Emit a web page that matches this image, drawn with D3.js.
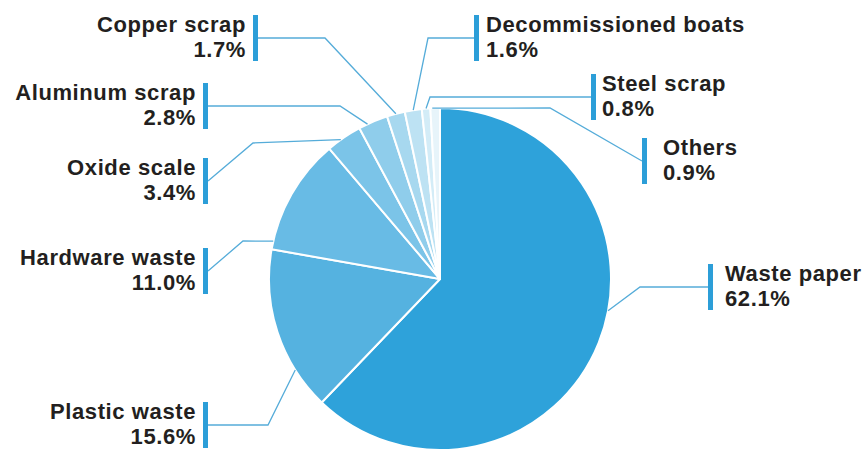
<!DOCTYPE html>
<html>
<head>
<meta charset="utf-8">
<script src="https://cdn.jsdelivr.net/npm/d3@7"></script>
<style>
  html, body { margin: 0; padding: 0; background: #fff; }
  svg { display: block; }
  .lbl { font-family: "Liberation Sans", Arial, sans-serif; font-weight: bold; font-size: 22px; fill: #231f20; letter-spacing: 0.6px; }
</style>
</head>
<body>
<svg width="866" height="450"></svg>
<script>
// data, clockwise from 12 o'clock
const categories = ['Waste paper', 'Plastic waste', 'Hardware waste', 'Oxide scale',
                    'Aluminum scrap', 'Copper scrap', 'Decommissioned boats', 'Steel scrap', 'Others'];
const shares = [62.1, 15.6, 11.0, 3.4, 2.8, 1.7, 1.6, 0.8, 0.9];
const sliceColors = ['#2ea2da', '#55b2e0', '#68bbe5', '#7bc4e8', '#8fcdeb',
                     '#a7d8ef', '#bde2f3', '#d3ecf7', '#e7f4fa'];

// label placement: side, bar x, bar centre y, elbow point, text offset, where on the slice the leader lands
const labelLayout = [
  {side: 'right', bx: 708, cy: 287, ex: 640, ey: 287, tx: 17, t: 0.45},
  {side: 'left',  bx: 203, cy: 425, ex: 268, ey: 425, t: 0.25},
  {side: 'left',  bx: 203, cy: 271, ex: 243, ey: 241, t: 0.07},
  {side: 'left',  bx: 203, cy: 181, ex: 253, ey: 143, t: 0.4},
  {side: 'left',  bx: 203, cy: 106, ex: 340, ey: 106, t: 0.3},
  {side: 'left',  bx: 253, cy: 38,  ex: 325, ey: 38,  t: 0.5},
  {side: 'right', bx: 474, cy: 38,  ex: 428, ey: 38,  tx: 12, t: 0.5},
  {side: 'right', bx: 591, cy: 97,  ex: 430, ey: 97,  tx: 11, t: 0.5},
  {side: 'right', bx: 642, cy: 161, ex: 550, ey: 108, tx: 21, t: 0.2}
];

const svg = d3.select('svg');
const cx = 440, cy = 279, radius = 171;

const pie = d3.pie().sort(null).value(d => d)(shares);
const arc = d3.arc().innerRadius(0).outerRadius(radius);

const g = svg.append('g').attr('transform', `translate(${cx},${cy})`);

g.selectAll('path.slice')
  .data(pie)
  .enter()
  .append('path')
  .attr('class', 'slice')
  .attr('d', arc)
  .attr('fill', (d, i) => sliceColors[i])
  .attr('stroke', '#fff')
  .attr('stroke-width', 2)
  .attr('stroke-linejoin', 'round');

// leader lines
const leaders = svg.append('g');
pie.forEach((d, i) => {
  let L = labelLayout[i];
  let a = d.startAngle + L.t * (d.endAngle - d.startAngle);
  let px = cx + radius * Math.sin(a), py = cy - radius * Math.cos(a);
  let startX = L.side === 'left' ? L.bx + 5 : L.bx;
  leaders.append('path')
    .attr('d', d3.line()([[startX, L.cy], [L.ex, L.ey], [px, py]]))
    .attr('fill', 'none')
    .attr('stroke', '#55acd9')
    .attr('stroke-width', 1.3);
});

// bars + texts
const labels = svg.append('g');
labelLayout.forEach((L, i) => {
  labels.append('rect')
    .attr('x', L.bx)
    .attr('y', L.cy - 23)
    .attr('width', 5)
    .attr('height', 46)
    .attr('fill', '#2c9ed8');
  let anchor = L.side === 'left' ? 'end' : 'start';
  let x = L.side === 'left' ? L.bx - 7 : L.bx + L.tx;
  let t = labels.append('text')
    .attr('class', 'lbl')
    .attr('text-anchor', anchor);
  t.append('tspan').attr('x', x).attr('y', L.cy - 6).text(categories[i]);
  t.append('tspan').attr('x', x).attr('y', L.cy + 19).text(shares[i].toFixed(1) + '%');
});
</script>
</body>
</html>
